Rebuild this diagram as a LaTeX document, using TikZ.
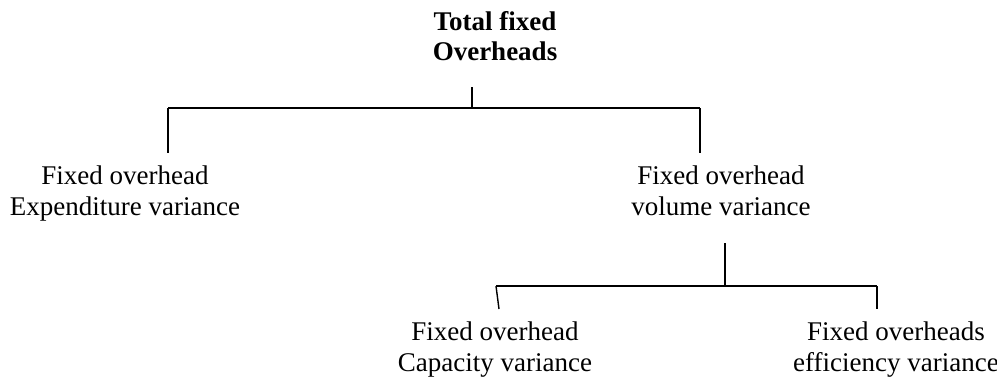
\documentclass[tikz,border=0pt]{standalone}
\usepackage{fontspec}
\setmainfont{Liberation Serif}
\begin{document}
\begin{tikzpicture}[x=1pt,y=-1pt,
  lbl/.style={align=center, font=\fontsize{27}{31}\selectfont, inner sep=0pt},
  bar/.style={line width=1.8pt},
  drop/.style={line width=1.4pt}]
\useasboundingbox (0,0) rectangle (997,378);
\node[lbl, font=\fontsize{27}{30}\selectfont\bfseries] (root) at (495,39) {\strut Total fixed\\\strut Overheads};
\node[lbl] (exp) at (125,194) {\strut Fixed overhead\\\strut Expenditure variance};
\node[lbl] (vol) at (721,194) {\strut Fixed overhead\\\strut volume variance};
\node[lbl] (cap) at (495,349.5) {\strut Fixed overhead\\\strut Capacity variance};
\node[lbl] (eff) at (896,349.5) {\strut Fixed overheads\\\strut efficiency variance};
% junctions
\coordinate (r0) at (472,87);
\coordinate (r1) at (472,108);
\coordinate (rl) at (168,108);
\coordinate (rr) at (700,108);
\coordinate (rlb) at (168,153);
\coordinate (rrb) at (700,153);
\coordinate (v0) at (725,243);
\coordinate (v1) at (725,286);
\coordinate (vl) at (496,286);
\coordinate (vr) at (877,286);
\coordinate (vlb) at (499,309);
\coordinate (vrb) at (877,309);
\draw[drop] (r0) -- (r1);
\draw[bar] (rl) -- (rr);
\draw[drop] (rl) -- (rlb);
\draw[drop] (rr) -- (rrb);
\draw[drop] (v0) -- (v1);
\draw[bar] (vl) -- (vr);
\draw[drop] (vl) -- (vlb);
\draw[drop] (vr) -- (vrb);
\end{tikzpicture}
\end{document}
